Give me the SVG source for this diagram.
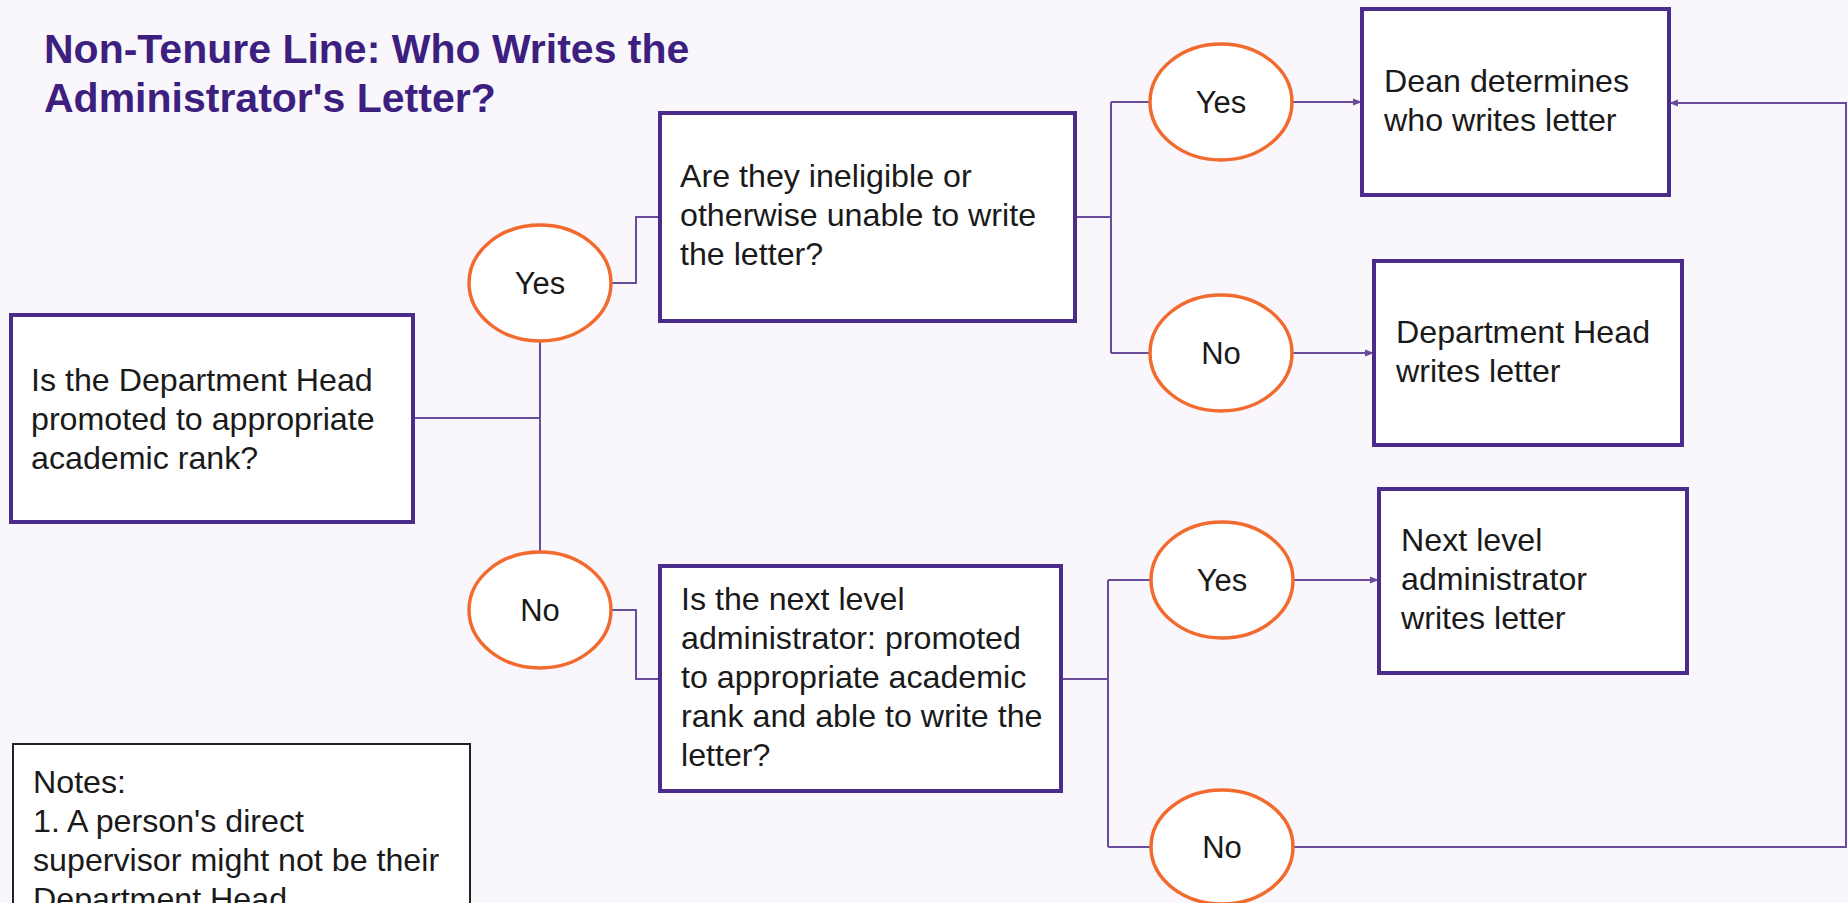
<svg xmlns="http://www.w3.org/2000/svg" width="1848" height="903" viewBox="0 0 1848 903">
<defs>
<style>
.bg{fill:#f9f7fc}
.box{fill:#ffffff;stroke:#4b2b8c;stroke-width:4}
.note{fill:#ffffff;stroke:#222222;stroke-width:2}
.oval{fill:#ffffff;stroke:#f26a2e;stroke-width:3.5}
.t{font-family:"Liberation Sans",Arial,sans-serif;font-size:32.2px;fill:#1a1a1a}
.c{text-anchor:middle;font-size:31px}
.title{font-family:"Liberation Sans",Arial,sans-serif;font-size:41px;font-weight:bold;fill:#3d1f7f}
.conn{fill:none;stroke:#6a4c9c;stroke-width:2}
</style>
<marker id="arr" viewBox="0 0 10 10" refX="10" refY="5" markerWidth="9" markerHeight="9" markerUnits="userSpaceOnUse" orient="auto">
<path d="M0,1 L10,5 L0,9 Z" fill="#6a4c9c"/>
</marker>
</defs>
<rect class="bg" x="0" y="0" width="1848" height="903"/>
<g id="title">
<text class="title" x="44" y="63">Non-Tenure Line: Who Writes the</text>
<text class="title" x="44" y="112">Administrator's Letter?</text>
</g>
<g id="connectors">
<path class="conn" d="M413,418 H540"/>
<path class="conn" d="M540,342 V553"/>
<path class="conn" d="M611,283 H636 V217 H660"/>
<path class="conn" d="M611,610 H636 V679 H660"/>
<path class="conn" d="M1075,217 H1111 M1111,102 V353 M1111,102 H1151 M1111,353 H1151"/>
<path class="conn" d="M1061,679 H1108 M1108,580 V847 M1108,580 H1151 M1108,847 H1151"/>
<path class="conn" d="M1292,102 H1362" marker-end="url(#arr)"/>
<path class="conn" d="M1292,353 H1374" marker-end="url(#arr)"/>
<path class="conn" d="M1293,580 H1379" marker-end="url(#arr)"/>
<path class="conn" d="M1293,847 H1846 V103 H1669" marker-end="url(#arr)"/>
</g>
<g id="q1">
<rect class="box" x="11" y="315" width="402" height="207"/>
<text class="t" x="31" y="391">Is the Department Head</text>
<text class="t" x="31" y="430">promoted to appropriate</text>
<text class="t" x="31" y="469">academic rank?</text>
</g>
<g id="yes1">
<ellipse class="oval" cx="540" cy="283" rx="71" ry="58"/>
<text class="t c" x="540" y="294">Yes</text>
</g>
<g id="no1">
<ellipse class="oval" cx="540" cy="610" rx="71" ry="58"/>
<text class="t c" x="540" y="621">No</text>
</g>
<g id="q2">
<rect class="box" x="660" y="113" width="415" height="208"/>
<text class="t" x="680" y="187">Are they ineligible or</text>
<text class="t" x="680" y="226">otherwise unable to write</text>
<text class="t" x="680" y="265">the letter?</text>
</g>
<g id="q3">
<rect class="box" x="660" y="566" width="401" height="225"/>
<text class="t" x="681" y="610">Is the next level</text>
<text class="t" x="681" y="649">administrator: promoted</text>
<text class="t" x="681" y="688">to appropriate academic</text>
<text class="t" x="681" y="727">rank and able to write the</text>
<text class="t" x="681" y="766">letter?</text>
</g>
<g id="yes2">
<ellipse class="oval" cx="1221" cy="102" rx="71" ry="58"/>
<text class="t c" x="1221" y="113">Yes</text>
</g>
<g id="no2">
<ellipse class="oval" cx="1221" cy="353" rx="71" ry="58"/>
<text class="t c" x="1221" y="364">No</text>
</g>
<g id="yes3">
<ellipse class="oval" cx="1222" cy="580" rx="71" ry="58"/>
<text class="t c" x="1222" y="591">Yes</text>
</g>
<g id="no3">
<ellipse class="oval" cx="1222" cy="847" rx="71" ry="57"/>
<text class="t c" x="1222" y="858">No</text>
</g>
<g id="dean">
<rect class="box" x="1362" y="9" width="307" height="186"/>
<text class="t" x="1384" y="92">Dean determines</text>
<text class="t" x="1384" y="131">who writes letter</text>
</g>
<g id="depthead">
<rect class="box" x="1374" y="261" width="308" height="184"/>
<text class="t" x="1396" y="343">Department Head</text>
<text class="t" x="1396" y="382">writes letter</text>
</g>
<g id="nextlevel">
<rect class="box" x="1379" y="489" width="308" height="184"/>
<text class="t" x="1401" y="551">Next level</text>
<text class="t" x="1401" y="590">administrator</text>
<text class="t" x="1401" y="629">writes letter</text>
</g>
<g id="notes">
<rect class="note" x="13" y="744" width="457" height="170"/>
<text class="t" x="33" y="793">Notes:</text>
<text class="t" x="33" y="832">1. A person's direct</text>
<text class="t" x="33" y="871">supervisor might not be their</text>
<text class="t" x="33" y="910">Department Head</text>
</g>
</svg>
